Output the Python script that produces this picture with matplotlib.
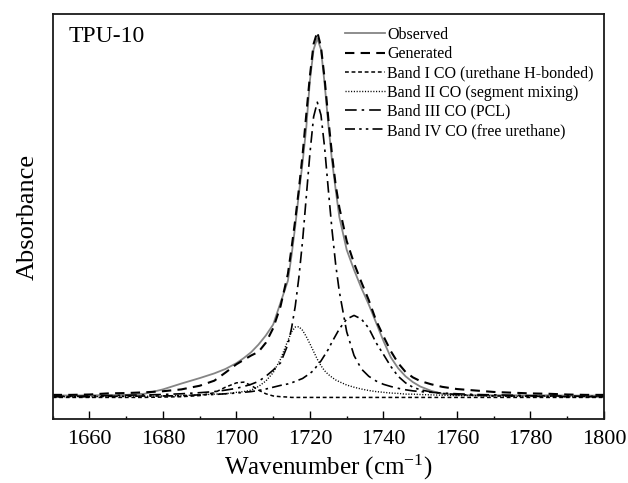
import matplotlib
matplotlib.use("Agg")
import matplotlib.pyplot as plt
from matplotlib.ticker import MultipleLocator

plt.rcParams['font.family'] = ['Liberation Serif', 'DejaVu Serif']
plt.rcParams['mathtext.fontset'] = 'custom'
plt.rcParams['mathtext.rm'] = 'Liberation Serif'
plt.rcParams['mathtext.it'] = 'Liberation Serif:italic'

wavenumber = [1650, 1655, 1660, 1665, 1670, 1675, 1680, 1685, 1690, 1694, 1697, 1700,
              1702, 1704, 1706, 1708, 1710, 1712, 1714, 1715, 1716, 1717, 1718, 1719,
              1720, 1721, 1722, 1723, 1724, 1725, 1726, 1727, 1728, 1730, 1732, 1734,
              1736, 1738, 1740, 1742, 1744, 1746, 1748, 1750, 1753, 1756, 1760, 1765,
              1770, 1775, 1780, 1785, 1790, 1795, 1800]

observed = [0.006, 0.005, 0.006, 0.006, 0.007, 0.010, 0.022, 0.038, 0.053, 0.066, 0.078, 0.094,
            0.108, 0.124, 0.145, 0.170, 0.200, 0.260, 0.320, 0.390, 0.470, 0.560, 0.645, 0.740,
            0.870, 0.955, 0.985, 0.955, 0.860, 0.750, 0.650, 0.570, 0.495, 0.405, 0.350, 0.300,
            0.255, 0.205, 0.155, 0.110, 0.080, 0.058, 0.042, 0.030, 0.018, 0.010, 0.007, 0.006,
            0.006, 0.006, 0.005, 0.006, 0.005, 0.005, 0.005]

generated = [0.007, 0.007, 0.008, 0.011, 0.012, 0.014, 0.017, 0.022, 0.032, 0.046, 0.068, 0.091,
             0.103, 0.115, 0.125, 0.150, 0.190, 0.250, 0.339, 0.410, 0.487, 0.572, 0.666, 0.776,
             0.883, 0.970, 1.003, 0.962, 0.874, 0.765, 0.667, 0.583, 0.521, 0.429, 0.368, 0.316,
             0.267, 0.211, 0.168, 0.127, 0.094, 0.070, 0.055, 0.045, 0.036, 0.029, 0.023, 0.019,
             0.015, 0.013, 0.011, 0.010, 0.008, 0.007, 0.007]

band1 = [0.0, 0.0, 0.0, 0.0, 0.0, 0.0, 0.001, 0.002, 0.005, 0.013, 0.028, 0.040,
         0.042, 0.033, 0.020, 0.010, 0.004, 0.002, 0.001, 0.0, 0.0, 0.0, 0.0, 0.0,
         0.0, 0.0, 0.0, 0.0, 0.0, 0.0, 0.0, 0.0, 0.0, 0.0, 0.0, 0.0,
         0.0, 0.0, 0.0, 0.0, 0.0, 0.0, 0.0, 0.0, 0.0, 0.0, 0.0, 0.0,
         0.0, 0.0, 0.0, 0.0, 0.0, 0.0, 0.0]

band2 = [0.002, 0.002, 0.002, 0.003, 0.003, 0.003, 0.004, 0.005, 0.007, 0.009, 0.010, 0.014,
         0.016, 0.020, 0.030, 0.045, 0.068, 0.105, 0.156, 0.180, 0.193, 0.194, 0.184, 0.167,
         0.147, 0.126, 0.105, 0.087, 0.073, 0.063, 0.055, 0.048, 0.043, 0.034, 0.028, 0.023,
         0.019, 0.016, 0.014, 0.012, 0.011, 0.009, 0.009, 0.008, 0.007, 0.006, 0.005, 0.005,
         0.004, 0.003, 0.003, 0.003, 0.002, 0.002, 0.002]

band3 = [0.003, 0.003, 0.004, 0.005, 0.006, 0.007, 0.008, 0.010, 0.013, 0.016, 0.020, 0.025,
         0.030, 0.036, 0.044, 0.058, 0.075, 0.095, 0.145, 0.190, 0.250, 0.330, 0.430, 0.550,
         0.670, 0.770, 0.810, 0.775, 0.685, 0.570, 0.460, 0.365, 0.290, 0.180, 0.115, 0.078,
         0.058, 0.045, 0.036, 0.030, 0.025, 0.021, 0.018, 0.016, 0.014, 0.012, 0.010, 0.008,
         0.007, 0.006, 0.005, 0.004, 0.004, 0.003, 0.003]

band4 = [0.002, 0.002, 0.002, 0.003, 0.003, 0.004, 0.004, 0.005, 0.007, 0.008, 0.010, 0.012,
         0.014, 0.016, 0.019, 0.023, 0.028, 0.033, 0.037, 0.040, 0.044, 0.048, 0.052, 0.059,
         0.066, 0.074, 0.088, 0.100, 0.116, 0.132, 0.152, 0.170, 0.188, 0.215, 0.225, 0.215,
         0.190, 0.150, 0.118, 0.085, 0.058, 0.040, 0.028, 0.021, 0.015, 0.011, 0.008, 0.006,
         0.004, 0.004, 0.003, 0.003, 0.002, 0.002, 0.002]

labels = ["Observed", "Generated", "Band I CO (urethane H-bonded)",
          "Band II CO (segment mixing)", "Band III CO (PCL)", "Band IV CO (free urethane)"]

fig = plt.figure(figsize=(6.28, 4.83), dpi=100)
ax = fig.add_axes([0.0838, 0.1319, 0.8780, 0.8391])

ax.plot(wavenumber, observed, color='#858585', lw=1.3, ls='-', label=labels[0])
ax.plot(wavenumber, generated, color='black', lw=1.5, ls=(0, (4.5, 3)), label=labels[1])
ax.plot(wavenumber, band1, color='black', lw=1.1, ls=(0, (2.5, 1.8)), label=labels[2])
ax.plot(wavenumber, band2, color='black', lw=1.0, ls=(0, (0.8, 1.2)), label=labels[3])
ax.plot(wavenumber, band3, color='black', lw=1.2, ls=(0, (7, 3, 1.5, 3)), label=labels[4])
ax.plot(wavenumber, band4, color='black', lw=1.2, ls=(0, (6, 2.5, 1.5, 2.5, 1.5, 2.5)), label=labels[5])

ax.set_xlim(1650, 1800)
ax.set_ylim(-0.060, 1.052)
ax.xaxis.set_minor_locator(MultipleLocator(10))
ax.set_xticks([1660, 1680, 1700, 1720, 1740, 1760, 1780, 1800])
ax.tick_params(axis='x', which='major', direction='in', length=5.5, width=1.0, labelsize=16, pad=8)
ax.tick_params(axis='x', which='minor', direction='in', length=2.5, width=1.0)
ax.set_yticks([])
for s in ax.spines.values():
    s.set_linewidth(1.3)
    s.set_color('#1a1a1a')

ax.set_xlabel('Wavenumber (cm$^{-1}$)', fontsize=18, labelpad=2.5)
ax.set_ylabel('Absorbance', fontsize=19, labelpad=10)

ax.text(0.028, 0.931, 'TPU-10', transform=ax.transAxes, fontsize=17, va='baseline', ha='left')

ax.legend(loc='upper left', bbox_to_anchor=(0.530, 0.968), frameon=False, fontsize=11.5,
          handlelength=2.5, handletextpad=0.15, labelspacing=0.2, borderpad=0, borderaxespad=0)

fig.savefig('out.png', dpi=100)
